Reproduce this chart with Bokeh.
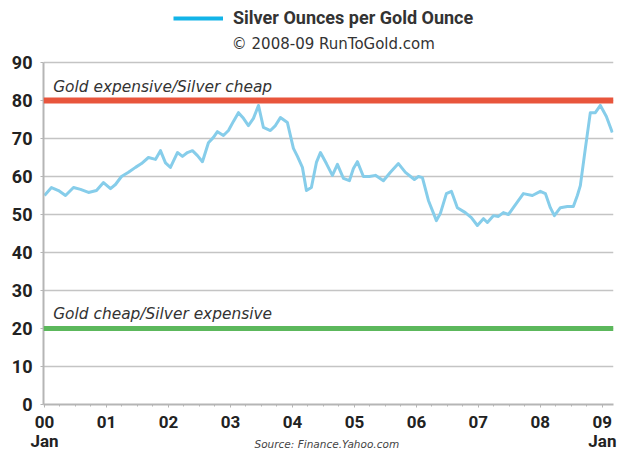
from bokeh.plotting import figure
from bokeh.models import Range1d, FixedTicker, Span, Label, Legend, LegendItem
from bokeh.embed import file_html
from bokeh.resources import INLINE

# ---- data (decimal year, ounces of silver per ounce of gold) ----
years = [2000.000, 2000.113, 2000.226, 2000.339, 2000.468, 2000.581, 2000.710, 2000.839, 2000.952,
         2001.065, 2001.145, 2001.242, 2001.355, 2001.468, 2001.565, 2001.677, 2001.790, 2001.871, 2001.952,
         2002.032, 2002.145, 2002.226, 2002.306, 2002.387, 2002.468, 2002.548, 2002.645, 2002.726, 2002.790,
         2002.887, 2002.968, 2003.048, 2003.129, 2003.210, 2003.290, 2003.371, 2003.452, 2003.532, 2003.645,
         2003.726, 2003.806, 2003.919, 2004.016, 2004.081, 2004.161, 2004.226, 2004.306, 2004.387, 2004.452,
         2004.548, 2004.645, 2004.726, 2004.823, 2004.919, 2004.984, 2005.048, 2005.145, 2005.242, 2005.339,
         2005.468, 2005.581, 2005.710, 2005.823, 2005.968, 2006.032, 2006.097, 2006.194, 2006.323, 2006.387,
         2006.484, 2006.565, 2006.661, 2006.790, 2006.887, 2006.984, 2007.081, 2007.145, 2007.242, 2007.323,
         2007.403, 2007.484, 2007.613, 2007.726, 2007.871, 2008.000, 2008.081, 2008.161, 2008.226, 2008.323,
         2008.435, 2008.532, 2008.597, 2008.645, 2008.726, 2008.806, 2008.887, 2008.968, 2009.065, 2009.161]
ratio = [55.0, 57.1, 56.3, 55.0, 57.1, 56.6, 55.8, 56.3, 58.4,
         56.8, 57.9, 60.0, 61.1, 62.4, 63.4, 65.0, 64.5, 66.8, 63.6,
         62.4, 66.3, 65.3, 66.3, 66.8, 65.5, 63.9, 68.9, 70.3, 71.8,
         70.8, 72.1, 74.5, 76.8, 75.3, 73.4, 75.3, 78.7, 72.9, 72.1,
         73.4, 75.5, 74.2, 67.4, 65.3, 62.4, 56.3, 57.1, 63.7, 66.3,
         63.4, 60.3, 63.2, 59.5, 58.9, 62.1, 63.9, 60.0, 60.0, 60.3,
         58.9, 61.1, 63.4, 61.1, 59.2, 60.0, 59.7, 53.7, 48.4, 50.3,
         55.5, 56.1, 51.8, 50.5, 49.2, 47.1, 48.9, 47.9, 49.7, 49.5,
         50.5, 50.0, 52.9, 55.5, 55.0, 56.1, 55.5, 51.8, 49.7, 51.8,
         52.1, 52.1, 55.0, 57.6, 67.4, 76.8, 76.8, 78.7, 75.8, 71.6]

year_ticks = [2000, 2001, 2002, 2003, 2004, 2005, 2006, 2007, 2008, 2009]
year_labels = ["00\nJan", "01", "02", "03", "04", "05", "06", "07", "08", "09\nJan"]
y_ticks = [0, 10, 20, 30, 40, 50, 60, 70, 80, 90]

expensive_level = 80
cheap_level = 20
title_text = "Silver Ounces per Gold Ounce"
subtitle_text = "\u00a9 2008-09 RunToGold.com"
source_text = "Source:  Finance.Yahoo.com"
expensive_text = "Gold expensive/Silver cheap"
cheap_text = "Gold cheap/Silver expensive"

BOLD = "Roboto"
VERD = "DejaVu Sans"

# the frame reaches up into the heading area; the value axis stops at 90
p = figure(output_backend="svg", toolbar_location=None,
           frame_width=570, frame_height=399,
           x_range=Range1d(1999.984, 2009.18), y_range=Range1d(0, 105),
           min_border_left=43, min_border_right=7, min_border_top=5, min_border_bottom=40)
p.outline_line_color = None
p.background_fill_color = "white"
p.border_fill_color = "white"

# axes
p.xaxis.ticker = FixedTicker(ticks=year_ticks,
                             minor_ticks=[y + q / 4 for y in year_ticks for q in range(4)])
p.xaxis.major_label_overrides = {t: l for t, l in zip(year_ticks, year_labels)}
p.yaxis.ticker = FixedTicker(ticks=y_ticks)
p.yaxis.bounds = (0, 90)
for ax in (p.xaxis, p.yaxis):
    ax.axis_line_color = "#b5b5b5"
    ax.axis_line_width = 2
    ax.major_tick_line_color = "#b5b5b5"
    ax.minor_tick_line_color = "#b5b5b5"
    ax.major_tick_in = 0
    ax.major_tick_out = 3
    ax.minor_tick_in = 0
    ax.minor_tick_out = 2
    ax.major_label_text_font = BOLD
    ax.major_label_text_font_style = "bold"
    ax.major_label_text_font_size = "18px"
    ax.major_label_text_color = "#222222"
p.yaxis.minor_tick_line_color = None
p.yaxis.major_label_standoff = 8
p.xaxis.major_label_standoff = 4
p.xaxis.major_label_text_font_size = "17px"
p.xaxis.major_label_text_line_height = 0.95

# source note drawn as the x axis label, pulled up to the "Jan" row
p.xaxis.axis_label = source_text
p.xaxis.axis_label_standoff = -16
p.xaxis.axis_label_text_font = VERD
p.xaxis.axis_label_text_font_style = "italic"
p.xaxis.axis_label_text_font_size = "10.5px"
p.xaxis.axis_label_text_color = "#444444"

p.xgrid.grid_line_color = None
p.ygrid.ticker = FixedTicker(ticks=y_ticks)
p.ygrid.grid_line_color = "#c4c4c4"
p.ygrid.grid_line_width = 1.5

# reference levels
p.add_layout(Span(location=expensive_level, dimension="width", line_color="#e8553c", line_width=6))
p.add_layout(Span(location=cheap_level, dimension="width", line_color="#5cb85c", line_width=5))

# data line
p.line(years, ratio, line_color="#86cdea", line_width=3, line_join="round")

# heading: legend key line + title, then subtitle
nan = float("nan")
leg_r = p.line([nan], [nan], line_color="#12b4e8", line_width=4)
p.add_layout(Legend(items=[LegendItem(label=title_text, renderers=[leg_r])],
                    location=(130, 376), orientation="horizontal",
                    glyph_width=50, glyph_height=20, label_height=20, label_standoff=10,
                    padding=0, margin=0, border_line_color=None, background_fill_alpha=0,
                    label_text_font=BOLD, label_text_font_style="bold",
                    label_text_font_size="18px", label_text_color="#333333"), "center")
p.add_layout(Label(x=2004.66, y=95.0, text=subtitle_text, text_align="center",
                   text_baseline="middle", text_font=VERD, text_font_size="15px",
                   text_color="#333333"))

p.add_layout(Label(x=2000.14, y=83.6, text=expensive_text, text_baseline="middle",
                   text_font=VERD, text_font_style="italic", text_font_size="15.4px",
                   text_color="#333333"))
p.add_layout(Label(x=2000.14, y=23.7, text=cheap_text, text_baseline="middle",
                   text_font=VERD, text_font_style="italic", text_font_size="15.4px",
                   text_color="#333333"))

open("out.html", "w").write(file_html(p, INLINE))
